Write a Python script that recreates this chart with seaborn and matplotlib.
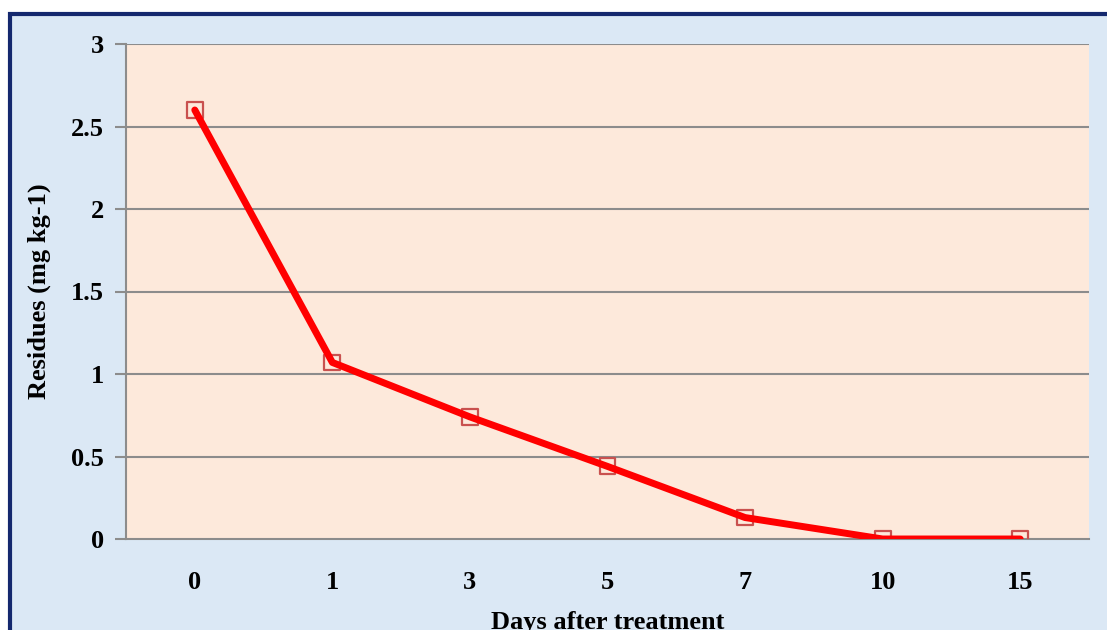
import matplotlib
matplotlib.use("Agg")
import matplotlib.pyplot as plt
import seaborn as sns
import pandas as pd
from matplotlib.patches import Rectangle

days = ["0", "1", "3", "5", "7", "10", "15"]
residues = [2.6, 1.07, 0.74, 0.44, 0.13, 0.0, 0.0]
yticks = [0, 0.5, 1, 1.5, 2, 2.5, 3]
ytick_labels = ["0", "0.5", "1", "1.5", "2", "2.5", "3"]

df = pd.DataFrame({"day": days, "res": residues, "pos": range(len(days))})

sns.set_theme(style="white")
plt.rcParams['font.family'] = ['Liberation Serif', 'DejaVu Serif']
plt.rcParams['text.color'] = 'black'
plt.rcParams['axes.labelcolor'] = 'black'
plt.rcParams['xtick.labelcolor'] = 'black'
plt.rcParams['ytick.labelcolor'] = 'black'

W, H = 1107, 630
fig = plt.figure(figsize=(W / 100, H / 100), dpi=100)
fig.patch.set_facecolor("white")
# outer blue background panel with navy border
bg = Rectangle((10 / W, -0.05), 1.05, (H - 14) / H + 0.05, transform=fig.transFigure,
               facecolor="#dbe8f5", edgecolor="#14286e", linewidth=3, zorder=-10)
fig.patches.append(bg)

ax = fig.add_axes([126 / W, 1 - 539 / H, (1089 - 126) / W, (539 - 44) / H])
ax.set_facecolor("#fde9db")

sns.scatterplot(data=df, x="pos", y="res", ax=ax, marker="s", s=130,
                facecolor="none", edgecolor="#c9514f", linewidth=1.6, zorder=3, legend=False)
sns.lineplot(data=df, x="pos", y="res", ax=ax, color="#ff0000", linewidth=5,
             zorder=4, legend=False, solid_capstyle="round")

ax.set_xlim(-0.5, len(days) - 0.5)
ax.set_ylim(0, 3)
ax.set_yticks(yticks)
ax.set_yticklabels(ytick_labels, fontsize=19, fontweight="bold", color="black")
ax.set_xticks(range(len(days)))
ax.set_xticklabels(days, fontsize=19, fontweight="bold", color="black")
ax.set_xticks([i + 0.5 for i in range(-1, len(days))], minor=True)
ax.tick_params(axis="x", which="major", length=0, pad=23)
ax.tick_params(axis="x", which="minor", length=7, width=1.5, color="#8c8c8c", direction="out")
ax.tick_params(axis="y", which="major", length=8, width=1.5, color="#8c8c8c", direction="out", pad=8, left=True)

for y in yticks[1:]:
    ax.axhline(y, color="#8c8c8c", linewidth=1.5, zorder=1)

for s in ["top", "right"]:
    ax.spines[s].set_visible(False)
for s in ["left", "bottom"]:
    ax.spines[s].set_color("#8c8c8c")
    ax.spines[s].set_linewidth(1.5)

ax.set_ylabel("Residues (mg kg-1)", fontsize=19, fontweight="bold", labelpad=14, color="black")
ax.set_xlabel("Days after treatment", fontsize=19, fontweight="bold", labelpad=12, color="black")

fig.savefig("out.png", dpi=100, facecolor=fig.get_facecolor())
